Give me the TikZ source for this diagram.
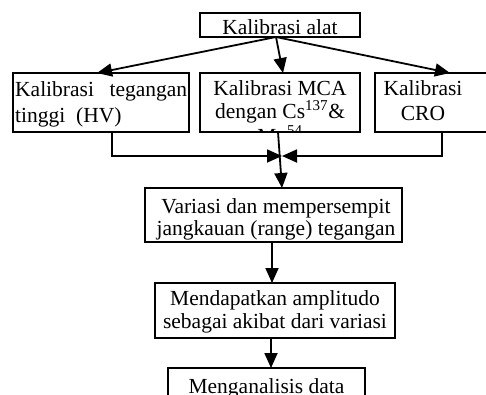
\documentclass[tikz,border=0pt]{standalone}
\usepackage{fontspec}
\setmainfont{Liberation Serif}
\usetikzlibrary{arrows.meta}
\begin{document}
\begin{tikzpicture}[x=1pt,y=-1pt,
  box/.style={draw, line width=1.8pt, rectangle, inner sep=0pt, outer sep=0pt},
  txt/.style={font=\fontsize{21.5}{24}\selectfont, inner sep=0pt, anchor=base},
  arr/.style={line width=1.8pt, -{Triangle[length=15pt,width=13pt]}}]
\useasboundingbox (0,0) rectangle (486,394);
\clip (0,0) rectangle (486,394);
% boxes
\node[box, minimum width=160pt, minimum height=24pt] (top) at (280,25) {};
\node[box, minimum width=176pt, minimum height=59pt] (hv) at (101,102.5) {};
\node[box, minimum width=160pt, minimum height=59pt] (mca) at (280,102.5) {};
\node[box, minimum width=125pt, minimum height=59pt] (cro) at (437.5,102.5) {};
\node[box, minimum width=257pt, minimum height=54pt] (var) at (273.5,215) {};
\node[box, minimum width=240pt, minimum height=55pt] (amp) at (275,310.5) {};
\node[box, minimum width=197pt, minimum height=62pt] (ana) at (266.5,399) {};
% texts
\node[txt] (topt) at (280,34) {Kalibrasi alat};
\node[txt, anchor=base west] (hv1) at (15,96) {\makebox[172pt][s]{Kalibrasi\hfill tegangan}};
\node[txt, anchor=base west] (hv2) at (15,122) {tinggi\ \ (HV)};
\node[txt] (mca1) at (280,95) {Kalibrasi MCA};
\node[txt] (mca2) at (280,118) {dengan Cs\textsuperscript{137}\&};
\begin{scope}
\clip (mca.south west) rectangle (mca.north east);
\node[txt] (mca3) at (280,143) {Mn\textsuperscript{54}};
\end{scope}
\node[txt] (cro1) at (423,95) {Kalibrasi};
\node[txt] (cro2) at (423,120) {CRO};
\node[txt] (var1) at (276,213) {Variasi dan mempersempit};
\node[txt] (var2) at (276,235) {jangkauan (range) tegangan};
\node[txt] (amp1) at (275,305) {Mendapatkan amplitudo};
\node[txt] (amp2) at (275,328) {sebagai akibat dari variasi};
\node[txt] (ana1) at (266.5,393) {Menganalisis data};
% connectors
\coordinate (src) at ([xshift=-4pt]top.south);
\draw[arr] (src) -- (hv.north -| 97,0);
\draw[arr] (src) -- (mca.north -| 283,0);
\draw[arr] (src) -- (cro.north -| 450,0);
\coordinate (j) at (282,156);
\draw[arr] (hv.south -| 112,0) |- (j);
\draw[arr] (cro.south -| 442,0) |- (j);
\draw[arr] (mca.south -| 278,0) -- (var.north -| 282,0);
\draw[arr] (var.south -| 272,0) -- (amp.north -| 272,0);
\draw[arr] (amp.south -| 271,0) -- (ana.north -| 271,0);
\end{tikzpicture}
\end{document}
